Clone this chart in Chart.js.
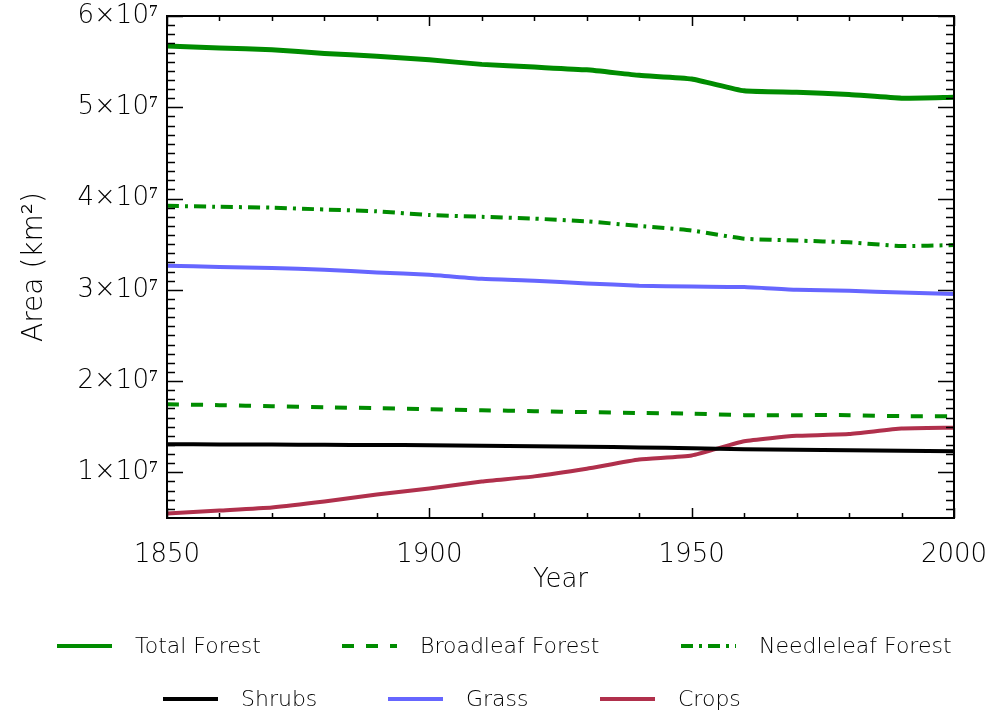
<!DOCTYPE html>
<html>
<head>
<meta charset="utf-8">
<script src="https://cdn.jsdelivr.net/npm/chart.js@4.4.0/dist/chart.umd.min.js"></script>
<style>
  body { margin: 0; background: #fff; }
  #wrap { width: 992px; height: 714px; }
</style>
</head>
<body>
<div id="wrap"><canvas id="areaChart" width="992" height="714"></canvas></div>
<script>
// decade values (km^2)
const years = [1850, 1860, 1870, 1880, 1890, 1900, 1910, 1920, 1930, 1940, 1950, 1960, 1970, 1980, 1990, 2000];
const totalForest = [5.67e7, 5.65e7, 5.63e7, 5.59e7, 5.56e7, 5.52e7, 5.47e7, 5.44e7, 5.41e7, 5.35e7, 5.31e7, 5.18e7, 5.165e7, 5.14e7, 5.10e7, 5.11e7];
const broadleafForest = [1.747e7, 1.736e7, 1.725e7, 1.714e7, 1.703e7, 1.692e7, 1.681e7, 1.67e7, 1.66e7, 1.65e7, 1.644e7, 1.627e7, 1.627e7, 1.627e7, 1.616e7, 1.616e7];
const needleleafForest = [3.92e7, 3.91e7, 3.90e7, 3.88e7, 3.86e7, 3.82e7, 3.80e7, 3.78e7, 3.75e7, 3.70e7, 3.65e7, 3.56e7, 3.54e7, 3.52e7, 3.48e7, 3.49e7];
const shrubs = [1.308e7, 1.306e7, 1.304e7, 1.302e7, 1.30e7, 1.297e7, 1.292e7, 1.286e7, 1.28e7, 1.273e7, 1.264e7, 1.253e7, 1.247e7, 1.242e7, 1.236e7, 1.23e7];
const grass = [3.264e7, 3.25e7, 3.24e7, 3.22e7, 3.19e7, 3.165e7, 3.12e7, 3.10e7, 3.07e7, 3.045e7, 3.035e7, 3.03e7, 3.0e7, 2.99e7, 2.97e7, 2.955e7];
const crops = [0.549e7, 0.582e7, 0.615e7, 0.68e7, 0.758e7, 0.824e7, 0.90e7, 0.956e7, 1.04e7, 1.14e7, 1.185e7, 1.34e7, 1.40e7, 1.42e7, 1.48e7, 1.49e7];

const xTickValues = [1850, 1900, 1950, 2000];
const yTickValues = [1e7, 2e7, 3e7, 4e7, 5e7, 6e7];

const FONT = 'DejaVu Sans';
const GREEN = '#008c00';
const TEXT = '#000';

const pts = arr => years.map((yr, i) => ({ x: yr, y: arr[i] }));

// legend slots (x of line start, row y)
const legendSlots = [
  { x: 57, y: 646 }, { x: 342, y: 646 }, { x: 681, y: 646 },
  { x: 163, y: 699 }, { x: 388, y: 699 }, { x: 600, y: 699 }
];

const frameAndLegend = {
  id: 'frameAndLegend',
  afterDraw(chart) {
    const ctx = chart.ctx;
    const a = chart.chartArea;
    const xs = chart.scales.x, ys = chart.scales.y;
    ctx.save();
    ctx.strokeStyle = '#000';
    ctx.lineWidth = 2;
    ctx.strokeRect(a.left, a.top, a.right - a.left, a.bottom - a.top);
    ctx.lineWidth = 1.5;
    ctx.beginPath();
    for (let yr = xs.min; yr <= xs.max; yr += 10) {
      const px = Math.round(xs.getPixelForValue(yr)) + 0.5;
      const len = (yr % 50 === 0) ? 10 : 5;
      ctx.moveTo(px, a.bottom); ctx.lineTo(px, a.bottom - len);
      ctx.moveTo(px, a.top); ctx.lineTo(px, a.top + len);
    }
    for (let v = 6e6; v <= ys.max; v += 1e6) {
      const py = Math.round(ys.getPixelForValue(v)) + 0.5;
      const len = (v % 1e7 === 0) ? 16 : 8;
      ctx.moveTo(a.left, py); ctx.lineTo(a.left + len, py);
      ctx.moveTo(a.right, py); ctx.lineTo(a.right - len, py);
    }
    ctx.stroke();

    // legend
    ctx.font = '200 22px "' + FONT + '"';
    ctx.textBaseline = 'middle';
    ctx.fillStyle = TEXT;
    chart.data.datasets.forEach((ds, i) => {
      const s = legendSlots[i];
      ctx.strokeStyle = ds.borderColor;
      ctx.lineWidth = 4;
      ctx.setLineDash(ds.borderDash || []);
      ctx.beginPath();
      ctx.moveTo(s.x, s.y); ctx.lineTo(s.x + 55, s.y);
      ctx.stroke();
      ctx.setLineDash([]);
      ctx.fillText(ds.label, s.x + 78, s.y + 1);
    });
    ctx.restore();
  }
};

const noEdgePad = s => { s.paddingLeft = 0; s.paddingRight = 0; s.paddingTop = 0; s.paddingBottom = 0; };

new Chart(document.getElementById('areaChart'), {
  type: 'line',
  data: {
    datasets: [
      { label: 'Total Forest', data: pts(totalForest), borderColor: GREEN, borderWidth: 5 },
      { label: 'Broadleaf Forest', data: pts(broadleafForest), borderColor: GREEN, borderWidth: 4, borderDash: [12, 12] },
      { label: 'Needleleaf Forest', data: pts(needleleafForest), borderColor: GREEN, borderWidth: 4, borderDash: [12, 6, 3, 6] },
      { label: 'Shrubs', data: pts(shrubs), borderColor: '#000000', borderWidth: 4 },
      { label: 'Grass', data: pts(grass), borderColor: '#6666ff', borderWidth: 4 },
      { label: 'Crops', data: pts(crops), borderColor: '#b0304c', borderWidth: 4 }
    ]
  },
  options: {
    responsive: false,
    animation: false,
    elements: { point: { radius: 0 }, line: { tension: 0.15, borderCapStyle: 'butt' } },
    layout: { padding: { left: 0, right: 38, top: 16, bottom: 118 } },
    plugins: { legend: { display: false }, tooltip: { enabled: false } },
    scales: {
      x: {
        type: 'linear', min: 1850, max: 2000,
        afterBuildTicks: s => { s.ticks = xTickValues.map(v => ({ value: v })); },
        afterFit: s => { s.height = 78; noEdgePad(s); },
        grid: { display: false, drawTicks: false },
        border: { display: false },
        ticks: { padding: 22, color: TEXT, font: { family: FONT, size: 26, weight: 200 }, callback: v => String(v), maxRotation: 0 },
        title: { display: true, text: 'Year', color: TEXT, font: { family: FONT, size: 26, weight: 200 }, padding: { top: 0, bottom: 0 } }
      },
      y: {
        min: 5e6, max: 6e7,
        afterBuildTicks: s => { s.ticks = yTickValues.map(v => ({ value: v })); },
        afterFit: s => { s.width = 167; noEdgePad(s); },
        grid: { display: false, drawTicks: false },
        border: { display: false },
        ticks: { padding: 9, color: TEXT, font: { family: FONT, size: 26, weight: 200 }, callback: v => (v / 1e7) + '×10⁷' },
        title: { display: true, text: 'Area (km²)', color: TEXT, font: { family: FONT, size: 28, weight: 200 }, padding: { top: 18, bottom: 0 } }
      }
    }
  },
  plugins: [frameAndLegend]
});
</script>
</body>
</html>
